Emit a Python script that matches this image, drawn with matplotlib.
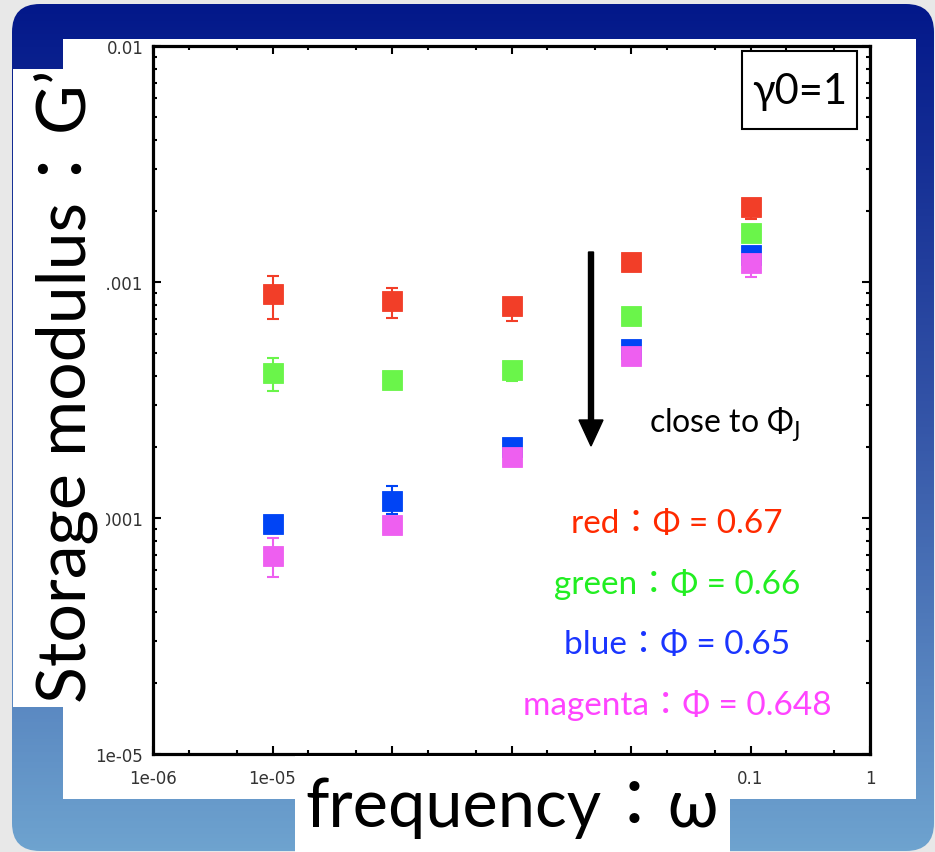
import matplotlib
matplotlib.use("Agg")
import matplotlib.pyplot as plt
import numpy as np
from matplotlib.colors import LinearSegmentedColormap
from matplotlib.patches import FancyBboxPatch, Rectangle
from matplotlib.ticker import FixedLocator, NullFormatter

# frequency of each column of points
freq = [1e-5, 1e-4, 1e-3, 1e-2, 1e-1]

# storage modulus G' per volume fraction
g_red = [8.9e-4, 8.3e-4, 7.9e-4, 1.22e-3, 2.08e-3]
g_green = [4.1e-4, 3.85e-4, 4.25e-4, 7.15e-4, 1.61e-3]
g_blue = [9.4e-5, 1.18e-4, 2.0e-4, 5.2e-4, 1.30e-3]
g_magenta = [6.9e-5, 9.3e-5, 1.82e-4, 4.88e-4, 1.20e-3]

# error bar bounds (same as value where no bar is visible)
lo_red = [6.97e-4, 7.03e-4, 6.84e-4, 1.22e-3, 1.85e-3]
hi_red = [1.06e-3, 9.44e-4, 7.9e-4, 1.22e-3, 2.08e-3]
lo_green = [3.45e-4, 3.85e-4, 3.79e-4, 7.15e-4, 1.61e-3]
hi_green = [4.77e-4, 3.85e-4, 4.25e-4, 7.15e-4, 1.61e-3]
lo_blue = [9.4e-5, 1.04e-4, 2.0e-4, 5.2e-4, 1.30e-3]
hi_blue = [9.4e-5, 1.37e-4, 2.0e-4, 5.2e-4, 1.30e-3]
lo_magenta = [5.62e-5, 9.3e-5, 1.82e-4, 4.88e-4, 1.05e-3]
hi_magenta = [8.22e-5, 9.3e-5, 1.82e-4, 4.88e-4, 1.20e-3]

x_ticks = [1e-6, 1e-5, 1e-4, 1e-3, 1e-2, 1e-1, 1]
x_ticklabels = ["1e-06", "1e-05", "0.0001", "0.001", "0.01", "0.1", "1"]
y_ticks = [1e-5, 1e-4, 1e-3, 1e-2]
y_ticklabels = ["1e-05", "0.0001", "0.001", "0.01"]

phi_labels = ["red\uff1a\u03a6 = 0.67", "green\uff1a\u03a6 = 0.66",
              "blue\uff1a\u03a6 = 0.65", "magenta\uff1a\u03a6 = 0.648"]

SERIES = [
    (g_red, lo_red, hi_red, "#f23e28"),
    (g_green, lo_green, hi_green, "#6af54a"),
    (g_blue, lo_blue, hi_blue, "#0044f5"),
    (g_magenta, lo_magenta, hi_magenta, "#ee5ff0"),
]
TEXT_COLORS = ["#ff2a00", "#22ee22", "#1a35ff", "#ff44ff"]
BIG_FONT = ["Lato", "Noto Sans CJK JP", "DejaVu Sans"]

W, H = 935, 853
fig = plt.figure(figsize=(W / 100, H / 100), dpi=100)
fig.patch.set_facecolor("#e8e8e8")

# slide background
bg = fig.add_axes([0, 0, 1, 1], zorder=0)
bg.set_xlim(0, W)
bg.set_ylim(H, 0)
bg.axis("off")
frame = FancyBboxPatch((12, 5), 922, 847, boxstyle="round,pad=0,rounding_size=28",
                       facecolor="none", edgecolor="none")
bg.add_patch(frame)
cmap = LinearSegmentedColormap.from_list("slide", ["#03188a", "#3556a8", "#6ea3cf"])
grad = np.linspace(0, 1, 256).reshape(-1, 1)
im = bg.imshow(grad, extent=[12, 934, 852, 5], aspect="auto", cmap=cmap)
im.set_clip_path(frame)
bg.add_patch(Rectangle((63, 40), 853, 760, facecolor="white", edgecolor="none"))

# data axes
ax = fig.add_axes([153 / W, 98 / H, 717 / W, 708 / H], zorder=2)
ax.set_xscale("log")
ax.set_yscale("log")
ax.set_xlim(1e-6, 1)
ax.set_ylim(1e-5, 1e-2)

for vals, lo, hi, col in SERIES:
    v = np.array(vals)
    yerr = [v - np.array(lo), np.array(hi) - v]
    ax.errorbar(freq, v, yerr=yerr, fmt="none", ecolor=col, elinewidth=1.5,
                capsize=4, capthick=1.5, zorder=3)
    ax.plot(freq, v, ls="none", marker="s", markersize=14.5, color=col,
            markeredgewidth=0.6, markeredgecolor=col, zorder=4)

ax.xaxis.set_major_locator(FixedLocator(x_ticks))
ax.set_xticklabels(x_ticklabels)
ax.yaxis.set_major_locator(FixedLocator(y_ticks))
ax.set_yticklabels(y_ticklabels)
x_minor = [m * 10.0 ** e for e in range(-6, 0) for m in (2, 5)]
y_minor = [m * 10.0 ** e for e in range(-5, -2) for m in range(2, 10)]
ax.xaxis.set_minor_locator(FixedLocator(x_minor))
ax.yaxis.set_minor_locator(FixedLocator(y_minor))
ax.xaxis.set_minor_formatter(NullFormatter())
ax.yaxis.set_minor_formatter(NullFormatter())
ax.tick_params(which="both", direction="in", top=True, right=True, width=1.5,
               colors="black", labelcolor="#333333", labelsize=12)
ax.tick_params(which="major", length=6)
ax.tick_params(which="minor", length=3)
ax.tick_params(axis="x", pad=11)
ax.tick_params(axis="y", pad=7)
for s in ax.spines.values():
    s.set_linewidth(2.3)

# overlay: label boxes, annotations
ov = fig.add_axes([0, 0, 1, 1], zorder=3)
ov.set_xlim(0, W)
ov.set_ylim(H, 0)
ov.axis("off")
ov.add_patch(Rectangle((13, 70), 93, 638, facecolor="white", edgecolor="none"))
ov.add_patch(Rectangle((295, 757), 435, 96, facecolor="white", edgecolor="none"))

ov.text(66, 386, "Storage modulus\uff1aG\u2019", rotation=90, ha="center", va="center",
        fontsize=49, family=BIG_FONT, color="black")
ov.text(512, 808, "frequency\uff1a\u03c9", ha="center", va="center",
        fontsize=48, family=BIG_FONT, color="black")

ov.add_patch(Rectangle((742, 52), 115, 78, facecolor="white", edgecolor="black", lw=1.5))
ov.text(799.5, 92, "\u03b30=1", ha="center", va="center", fontsize=30,
        family=BIG_FONT, color="black")

ov.arrow(591, 253, 0, 194, width=5, head_width=24, head_length=26,
         length_includes_head=True, color="black")
ov.text(649, 424, "close to \u03a6$_\\mathrm{J}$", ha="left", va="center",
        fontsize=23, family=BIG_FONT, color="black")

for i, (lab, col) in enumerate(zip(phi_labels, TEXT_COLORS)):
    ov.text(677, 524 + i * 60.5, lab, ha="center", va="center", fontsize=24,
            family=BIG_FONT, color=col)

fig.savefig("out.png", dpi=100)
